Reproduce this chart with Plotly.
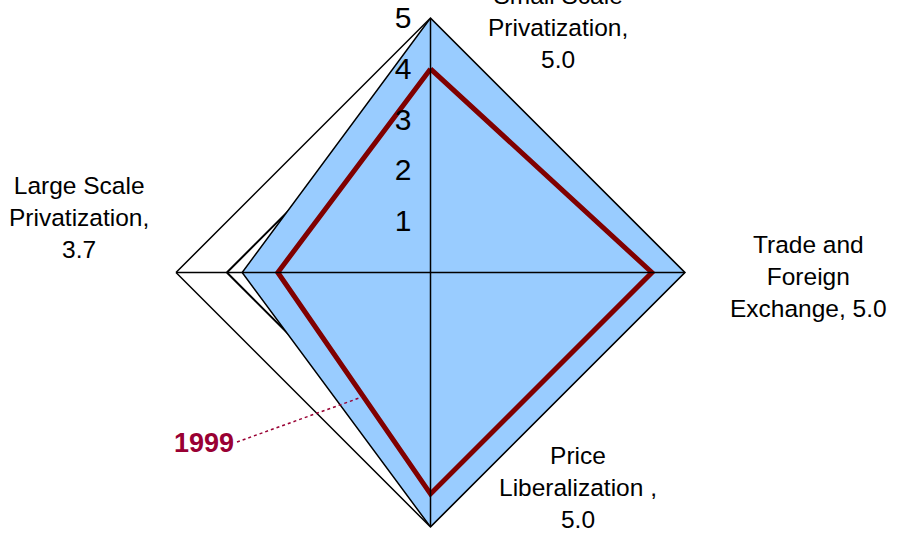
import plotly.graph_objects as go

# axes, clockwise from the top
categories = ["Small Scale Privatization", "Trade and Foreign Exchange",
              "Price Liberalization", "Large Scale Privatization"]
label_lines = ["Small Scale<br>Privatization,", "Trade and<br>Foreign<br>Exchange,",
               "Price<br>Liberalization ,", "Large Scale<br>Privatization,"]
label_sep = ["<br>", " ", "<br>", "<br>"]

values_now = [5.0, 5.0, 5.0, 3.7]
values_1999 = [4.0, 4.35, 4.35, 3.0]
scale_ticks = [1, 2, 3, 4, 5]
series_name = "1999"

FONT = "Arial, Liberation Sans, sans-serif"
rmax = max(scale_ticks)

fig = go.Figure()

# filled current profile
fig.add_trace(go.Scatterpolar(
    r=values_now + values_now[:1], theta=categories + categories[:1],
    mode="lines", fill="toself", fillcolor="#99CCFF",
    line=dict(color="black", width=1.5), hoverinfo="skip"))

# 1999 profile
fig.add_trace(go.Scatterpolar(
    r=values_1999 + values_1999[:1], theta=categories + categories[:1],
    mode="lines", line=dict(color="#800000", width=5), hoverinfo="skip"))

# spokes drawn above the fill
fig.add_trace(go.Scatterpolar(
    r=[rmax, rmax, None, rmax, rmax],
    theta=[categories[0], categories[2], None, categories[1], categories[3]],
    mode="lines", line=dict(color="black", width=1.5), hoverinfo="skip"))

fig.update_layout(
    width=919, height=540,
    margin=dict(l=0, r=0, t=0, b=0),
    paper_bgcolor="white",
    showlegend=False,
    font=dict(family=FONT, color="black"),
    polar=dict(
        domain=dict(x=[176 / 919, 685 / 919], y=[13 / 540, 522 / 540]),
        bgcolor="white",
        gridshape="linear",
        radialaxis=dict(range=[0, rmax], tickvals=scale_ticks, angle=90, tickangle=90,
                        showline=False, gridcolor="black", gridwidth=1.5,
                        ticks="outside", ticklen=8, tickcolor="rgba(0,0,0,0)",
                        side="counterclockwise",
                        tickfont=dict(size=30, color="black", family=FONT)),
        angularaxis=dict(direction="clockwise", rotation=90, showticklabels=False,
                         showgrid=False, ticks="", showline=True,
                         linecolor="black", linewidth=1.5),
    ),
)

# category labels with values
label_pos = [(558, 28), (808, 276), (578, 487), (79, 217)]
for txt, sep, v, (px, py) in zip(label_lines, label_sep, values_now, label_pos):
    fig.add_annotation(text=f"{txt}{sep}{v:.1f}", x=px / 919, y=1 - py / 540,
                       xref="paper", yref="paper", xanchor="center", yanchor="middle",
                       showarrow=False, font=dict(size=24.5, family=FONT, color="black"))

# series label with dotted leader
fig.add_annotation(text=f"<b>{series_name}</b>", x=204 / 919, y=1 - 443 / 540,
                   xref="paper", yref="paper", xanchor="center", yanchor="middle",
                   showarrow=False, font=dict(size=27, family=FONT, color="#990033"))
fig.add_shape(type="line", xref="paper", yref="paper",
              x0=237 / 919, y0=1 - 442 / 540, x1=362 / 919, y1=1 - 397 / 540,
              line=dict(color="#990033", width=1.5, dash="dot"))

fig.write_html("out.html", config={"displayModeBar": False},
               post_script="document.body.style.margin='0';")
